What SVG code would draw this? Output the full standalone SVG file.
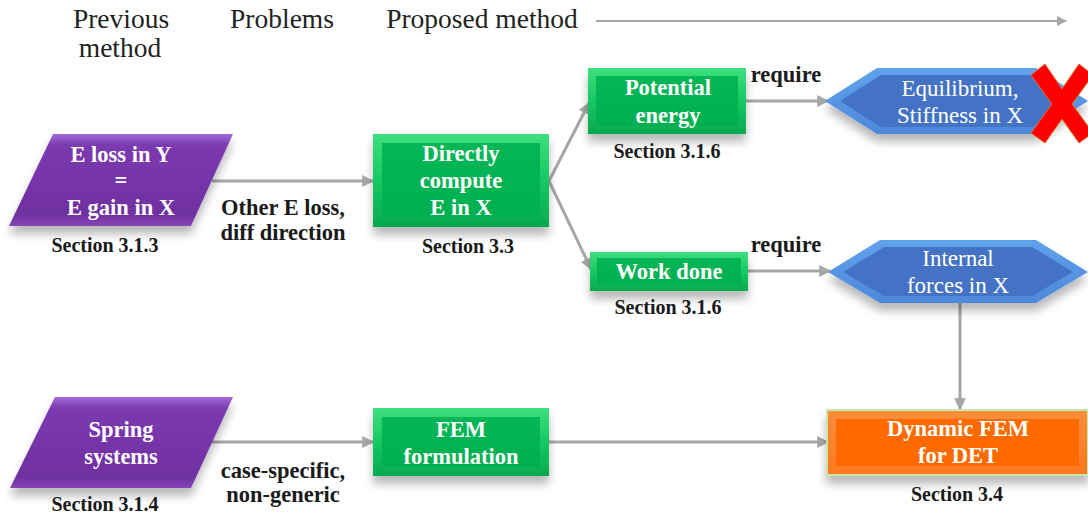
<svg xmlns="http://www.w3.org/2000/svg" width="1088" height="515" viewBox="0 0 1088 515">
<style>
text{font-family:"Liberation Serif","Times New Roman",serif;text-anchor:middle}
.hdr{font-size:27.5px;fill:#222}
.nt{font-size:22.5px;font-weight:bold;fill:#fff}
.nr{font-size:23px;fill:#fff}
.sec{font-size:20px;font-weight:bold;fill:#1a1a1a}
.lbl{font-size:22.5px;font-weight:bold;fill:#1a1a1a}
.edge{fill:none;stroke:#A6A6A6;stroke-width:3}
.gbev{fill:url(#gB)}
.gface{fill:url(#gF)}
.pface{fill:url(#pG)}
.bbev{fill:url(#bB)}
.bface{fill:#4472C4}
</style>
<defs>
<marker id="ah" viewBox="0 0 10 10" refX="9" refY="5" markerWidth="4" markerHeight="4" orient="auto" markerUnits="strokeWidth">
<path d="M0,0 L10,5 L0,10 z" fill="#A6A6A6"/>
</marker>
<marker id="ah2" viewBox="0 0 10 10" refX="9" refY="5" markerWidth="5" markerHeight="5" orient="auto" markerUnits="strokeWidth">
<path d="M0,0 L10,5 L0,10 z" fill="#A6A6A6"/>
</marker>
<filter id="sh" x="-20%" y="-20%" width="140%" height="160%">
<feGaussianBlur in="SourceAlpha" stdDeviation="5"/>
<feOffset dy="8" result="b"/>
<feComponentTransfer><feFuncA type="linear" slope="0.28"/></feComponentTransfer>
<feMerge><feMergeNode/><feMergeNode in="SourceGraphic"/></feMerge>
</filter>
<linearGradient id="gB" x1="0" y1="0" x2="0" y2="1">
<stop offset="0" stop-color="#3EE07C"/>
<stop offset="0.5" stop-color="#16C862"/>
<stop offset="1" stop-color="#04AA4E"/>
</linearGradient>
<linearGradient id="gF" x1="0" y1="0" x2="0" y2="1">
<stop offset="0" stop-color="#04B656"/>
<stop offset="1" stop-color="#00B050"/>
</linearGradient>
<linearGradient id="pG" x1="0" y1="0" x2="0" y2="1">
<stop offset="0" stop-color="#A46AD8"/>
<stop offset="0.12" stop-color="#7B3AB0"/>
<stop offset="0.88" stop-color="#7030A0"/>
<stop offset="1" stop-color="#8546B8"/>
</linearGradient>
<linearGradient id="bB" x1="0" y1="0" x2="0" y2="1">
<stop offset="0" stop-color="#5FA2EC"/>
<stop offset="1" stop-color="#4E88DA"/>
</linearGradient>
<linearGradient id="oB" x1="0" y1="0" x2="0" y2="1">
<stop offset="0" stop-color="#FF8E3C"/>
<stop offset="1" stop-color="#FF7820"/>
</linearGradient>
</defs>

<g id="header">
<text class="hdr" x="121" y="28">Previous</text>
<text class="hdr" x="120" y="57">method</text>
<text class="hdr" x="282" y="28">Problems</text>
<text class="hdr" x="482" y="28">Proposed method</text>
</g>

<g id="connectors">
<line class="edge" x1="596" y1="21" x2="1066" y2="21" style="stroke-width:2" marker-end="url(#ah2)"/>
<line class="edge" x1="212" y1="181" x2="373" y2="181" marker-end="url(#ah)"/>
<line class="edge" x1="549" y1="181" x2="589" y2="103" marker-end="url(#ah)"/>
<line class="edge" x1="549" y1="181" x2="591" y2="269" marker-end="url(#ah)"/>
<line class="edge" x1="746" y1="101" x2="828" y2="101" marker-end="url(#ah)"/>
<line class="edge" x1="748" y1="271" x2="830" y2="271" marker-end="url(#ah)"/>
<line class="edge" x1="960" y1="303" x2="960" y2="409" marker-end="url(#ah)"/>
<line class="edge" x1="212" y1="442" x2="373" y2="442" marker-end="url(#ah)"/>
<line class="edge" x1="549" y1="442" x2="828" y2="442" marker-end="url(#ah)"/>
<text class="lbl" x="283" y="215">Other E loss,</text>
<text class="lbl" x="283" y="240">diff direction</text>
<text class="lbl" x="786" y="82">require</text>
<text class="lbl" x="786" y="252">require</text>
<text class="lbl" x="283" y="478">case-specific,</text>
<text class="lbl" x="283" y="502">non-generic</text>
</g>

<g id="node-eloss">
<polygon class="pface" points="53,134 233,134 191,226 9,226" filter="url(#sh)"/>
<text class="nt" x="121" y="162">E loss in Y</text>
<text class="nt" x="121" y="188">=</text>
<text class="nt" x="121" y="215">E gain in X</text>
<text class="sec" x="105" y="252">Section 3.1.3</text>
</g>

<g id="node-direct">
<rect class="gbev" x="373" y="134" width="176" height="93" filter="url(#sh)"/>
<rect class="gface" x="382" y="143" width="158" height="75"/>
<text class="nt" x="461" y="161">Directly</text>
<text class="nt" x="461" y="188">compute</text>
<text class="nt" x="461" y="215">E in X</text>
<text class="sec" x="468" y="253">Section 3.3</text>
</g>

<g id="node-potential">
<rect class="gbev" x="588" y="68" width="158" height="66" filter="url(#sh)"/>
<rect class="gface" x="596" y="76" width="142" height="50"/>
<text class="nt" x="668" y="95">Potential</text>
<text class="nt" x="668" y="123">energy</text>
<text class="sec" x="667" y="158">Section 3.1.6</text>
</g>

<g id="node-work">
<rect class="gbev" x="590" y="252" width="158" height="39" filter="url(#sh)"/>
<rect class="gface" x="597" y="258" width="144" height="27"/>
<text class="nt" x="669" y="279">Work done</text>
<text class="sec" x="668" y="314">Section 3.1.6</text>
</g>

<g id="node-equilibrium">
<polygon class="bbev" points="825,101 877,68 1036,68 1088,101 1036,134 877,134" filter="url(#sh)"/>
<polygon class="bface" points="840,101 881,75 1032,75 1073,101 1032,127 881,127"/>
<text class="nr" x="960" y="96">Equilibrium,</text>
<text class="nr" x="960" y="123">Stiffness in X</text>
</g>

<g id="cross-mark">
<polygon points="1031,75 1045,64 1062,89 1079,64 1093,75 1072,104 1093,133 1079,143 1062,119 1045,143 1031,133 1052,104" fill="#FF0000" stroke="#E87020" stroke-width="1"/>
</g>

<g id="node-internal">
<polygon class="bbev" points="828,272 880,240 1036,240 1088,272 1036,303 880,303" filter="url(#sh)"/>
<polygon class="bface" points="843,272 884,247 1032,247 1073,272 1032,296 884,296"/>
<text class="nr" x="958" y="266">Internal</text>
<text class="nr" x="958" y="293">forces in X</text>
</g>

<g id="node-spring">
<polygon class="pface" points="55,397 233,397 191,488 10,488" filter="url(#sh)"/>
<text class="nt" x="121" y="437">Spring</text>
<text class="nt" x="121" y="464">systems</text>
<text class="sec" x="105" y="511">Section 3.1.4</text>
</g>

<g id="node-fem">
<rect class="gbev" x="373" y="408" width="176" height="68" filter="url(#sh)"/>
<rect class="gface" x="382" y="417" width="158" height="50"/>
<text class="nt" x="461" y="437">FEM</text>
<text class="nt" x="461" y="464">formulation</text>
</g>

<g id="node-dynamic">
<rect x="827" y="410" width="261" height="65" fill="url(#oB)" stroke="#C8E6A8" stroke-width="2" filter="url(#sh)"/>
<rect x="836" y="419" width="243" height="47" fill="#FF6A00"/>
<text class="nt" x="958" y="436">Dynamic FEM</text>
<text class="nt" x="958" y="463">for DET</text>
<text class="sec" x="957" y="501">Section 3.4</text>
</g>
</svg>
